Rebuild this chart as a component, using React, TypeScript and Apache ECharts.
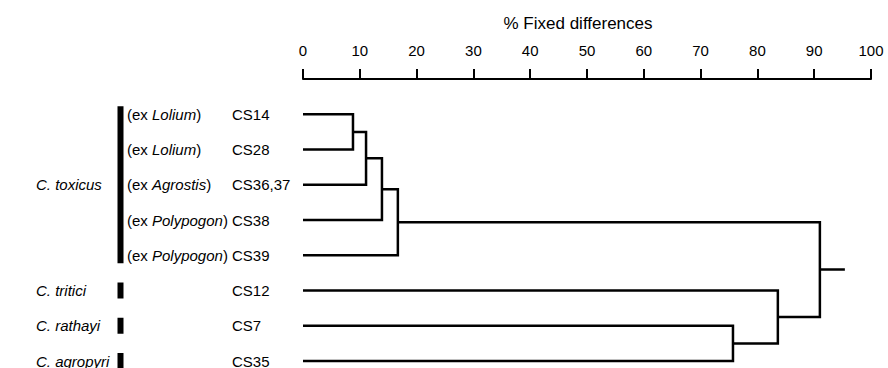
import React, { useEffect, useRef } from "react";
import * as echarts from "echarts";

// ---- data ----
const leafNames = ["CS14", "CS28", "CS36,37", "CS38", "CS39", "CS12", "CS7", "CS35"];
const hostNames = ["Lolium", "Lolium", "Agrostis", "Polypogon", "Polypogon", "", "", ""];
const speciesNames = ["C. toxicus", "C. tritici", "C. rathayi", "C. agropyri"];
const speciesFirstLeaf = [0, 5, 6, 7];
const speciesLastLeaf = [4, 5, 6, 7];
// linkage: node ids 0..7 are leaves, 8.. are merges in order
const mergeA = [0, 8, 9, 10, 6, 5, 11];
const mergeB = [1, 2, 3, 4, 7, 12, 13];
const mergeHeight = [8.8, 11.1, 13.9, 16.7, 75.7, 83.6, 91.0];
const rootStubEnd = 95.4;
const axisMin = 0;
const axisMax = 100;
const axisInterval = 10;

const FONT = '"Liberation Sans", Arial, Helvetica, sans-serif';

function buildTree() {
  const xs: number[] = leafNames.map(() => 0);
  const ys: number[] = leafNames.map((_, i) => i);
  const links: number[][] = [];
  mergeA.forEach((a, k) => {
    const b = mergeB[k];
    const h = mergeHeight[k];
    links.push([xs[a], ys[a], xs[b], ys[b], h]);
    xs.push(h);
    ys.push((ys[a] + ys[b]) / 2);
  });
  return { links, rootX: xs[xs.length - 1], rootY: ys[ys.length - 1] };
}

export default function App() {
  const ref = useRef<HTMLDivElement>(null);
  useEffect(() => {
    if (!ref.current) return;
    const chart = echarts.init(ref.current, undefined, { renderer: "svg" });
    const { links, rootX, rootY } = buildTree();
    const option: any = {
      animation: false,
      backgroundColor: "#fff",
      grid: { left: 303, right: 17, top: 79, bottom: 7, containLabel: false },
      xAxis: {
        type: "value",
        position: "top",
        min: axisMin,
        max: axisMax,
        interval: axisInterval,
        name: "% Fixed differences",
        nameLocation: "middle",
        nameGap: 47,
        nameTextStyle: { fontFamily: FONT, fontSize: 17, color: "#000", padding: [0, 18, 0, 0] },
        axisLine: { show: true, onZero: false, lineStyle: { color: "#000", width: 2 } },
        axisTick: { show: true, inside: false, length: 10, lineStyle: { color: "#000", width: 2 } },
        axisLabel: { fontFamily: FONT, fontSize: 15, color: "#000", margin: 21 },
        splitLine: { show: false },
      },
      yAxis: {
        type: "value",
        min: -1,
        max: 7,
        inverse: true,
        show: false,
      },
      series: [
        {
          type: "custom",
          silent: true,
          clip: false,
          encode: { x: [0, 2, 4], y: [1, 3] },
          data: links,
          renderItem: (_params: any, api: any) => {
            const p1 = api.coord([api.value(0), api.value(1)]);
            const p2 = api.coord([api.value(4), api.value(1)]);
            const p3 = api.coord([api.value(4), api.value(3)]);
            const p4 = api.coord([api.value(2), api.value(3)]);
            return {
              type: "polyline",
              shape: { points: [p1, p2, p3, p4] },
              style: { stroke: "#000", lineWidth: 2.5, fill: null, lineJoin: "miter" },
            };
          },
        },
        {
          type: "line",
          silent: true,
          symbol: "none",
          data: [
            [rootX, rootY],
            [rootStubEnd, rootY],
          ],
          lineStyle: { color: "#000", width: 2.5 },
        },
        {
          type: "custom",
          silent: true,
          clip: false,
          encode: { x: 0, y: 1 },
          data: leafNames.map((_, i) => [0, i]),
          renderItem: (params: any, api: any) => {
            const i = params.dataIndex;
            const yPix = api.coord([0, api.value(1)])[1];
            const children: any[] = [
              {
                type: "text",
                style: {
                  text: leafNames[i],
                  x: 232,
                  y: yPix,
                  fill: "#000",
                  fontSize: 15,
                  fontFamily: FONT,
                  align: "left",
                  verticalAlign: "middle",
                },
              },
            ];
            if (hostNames[i]) {
              children.push({
                type: "text",
                style: {
                  text: "(ex {it|" + hostNames[i] + "})",
                  x: 127,
                  y: yPix,
                  fill: "#000",
                  fontSize: 15,
                  fontFamily: FONT,
                  align: "left",
                  verticalAlign: "middle",
                  rich: { it: { fontStyle: "italic", fontSize: 15, fontFamily: FONT, fill: "#000" } },
                },
              });
            }
            return { type: "group", children };
          },
        },
        {
          type: "custom",
          silent: true,
          clip: false,
          encode: { x: 0, y: [1, 2] },
          data: speciesNames.map((_, k) => [0, speciesFirstLeaf[k], speciesLastLeaf[k]]),
          renderItem: (params: any, api: any) => {
            const k = params.dataIndex;
            const y1 = api.coord([0, api.value(1)])[1];
            const y2 = api.coord([0, api.value(2)])[1];
            return {
              type: "group",
              children: [
                {
                  type: "rect",
                  shape: { x: 117.5, y: y1 - 8, width: 6, height: y2 - y1 + 16 },
                  style: { fill: "#000" },
                },
                {
                  type: "text",
                  style: {
                    text: speciesNames[k],
                    x: 36,
                    y: (y1 + y2) / 2,
                    fill: "#000",
                    fontSize: 15,
                    fontStyle: "italic",
                    fontFamily: FONT,
                    align: "left",
                    verticalAlign: "middle",
                  },
                },
              ],
            };
          },
        },
      ],
    };
    chart.setOption(option);
    return () => chart.dispose();
  }, []);
  return (
    <div
      ref={ref}
      style={{ position: "fixed", left: 0, top: 0, width: 888, height: 368, background: "#fff" }}
    />
  );
}
